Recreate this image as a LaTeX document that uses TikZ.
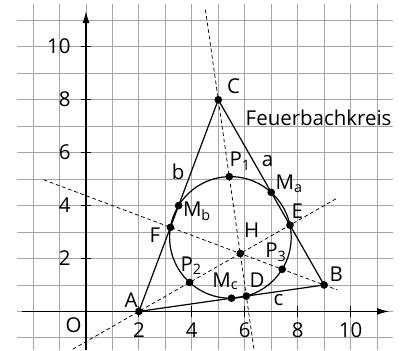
\documentclass[tikz,border=0pt]{standalone}
\usepackage{fontspec}
\setmainfont{Open Sans}
\usetikzlibrary{arrows.meta,positioning}

\begin{document}
\begin{tikzpicture}[>={Latex[length=4.5mm,width=2.6mm]},
 dot/.style={circle,fill,inner sep=0pt,minimum size=2.9mm},
 lbl/.style={font=\fontsize{22}{26}\selectfont,inner sep=0pt},
 side/.style={line width=1.3pt},
 hgt/.style={line width=0.8pt,dash pattern=on 4pt off 3pt}]
\useasboundingbox (-3.25,-1.47) rectangle (12.17,11.77);
\draw[black!35,line width=0.9pt] (-2.6,-1.47) grid (11.6,11.6);
% axes
\draw[->,line width=1.1pt] (-2.4,0) -- (11.45,0);
\draw[->,line width=1.1pt] (0,-1.47) -- (0,11.35);
\foreach \k in {2,4,...,10} {
 \draw[line width=1.1pt] (\k,-0.2) -- (\k,0.2);
 \draw[line width=1.1pt] (-0.2,\k) -- (0.2,\k);
 \node[lbl,anchor=base] (x\k) at (\k,-0.99) {\k};
 \node[lbl,anchor=base east] (y\k) at (-0.58,\k-0.25) {\k};
}
\node[lbl,anchor=base west] (O) at (-0.78,-0.8) {O};
% points
\coordinate (A) at (2,0);
\coordinate (B) at (9,1);
\coordinate (C) at (5,8);
\coordinate (Ma) at (7,4.5);
\coordinate (Mb) at (3.5,4);
\coordinate (Mc) at (5.5,0.5);
\coordinate (D) at (6.06,0.58);
\coordinate (E) at (7.708,3.262);
\coordinate (F) at (3.192,3.178);
\coordinate (H) at (5.830,2.189);
\coordinate (P1) at (5.415,5.094);
\coordinate (P2) at (3.915,1.094);
\coordinate (P3) at (7.415,1.594);
\coordinate (N) at (5.4575,2.7972);
% altitudes
\coordinate (ha1) at (-0.5,-1.429);
\coordinate (ha2) at (9.5,4.286);
\coordinate (hb1) at (-1.6,4.975);
\coordinate (hb2) at (9.5,0.8125);
\coordinate (hc1) at (4.514,11.4);
\coordinate (hc2) at (6.353,-1.47);
\draw[hgt] (ha1) -- (A) -- (H) -- (ha2);
\draw[hgt] (hb1) -- (H) -- (B) -- (hb2);
\draw[hgt] (hc1) -- (C) -- (H) -- (hc2);
% Feuerbach circle and triangle
\draw[side] (N) circle (2.2976);
\draw[side,line join=round] (A) -- (B) -- (C) -- cycle;
\foreach \p in {A,B,C,Ma,Mb,Mc,D,E,F,H,P1,P2,P3}
 \node[dot] (d\p) at (\p) {};
% labels
\node[lbl,anchor=base west] (lA) at (1.45,0.14) {A};
\node[lbl,anchor=base west] (lB) at (9.2,1.15) {B};
\node[lbl,anchor=base west] (lC) at (5.33,8.23) {C};
\node[lbl,anchor=base west] (la) at (6.64,5.48) {a};
\node[lbl,anchor=base west] (lb) at (3.24,4.98) {b};
\node[lbl,anchor=base west] (lc) at (7.08,0.24) {c};
\node[lbl,anchor=base west] (lMa) at (7.16,4.6) {M\textsubscript{a}};
\node[lbl,anchor=base west] (lMb) at (3.66,3.58) {M\textsubscript{b}};
\node[lbl,anchor=base west] (lMc) at (4.77,0.92) {M\textsubscript{c}};
\node[lbl,anchor=base west] (lD) at (6.18,0.92) {D};
\node[lbl,anchor=base west] (lE) at (7.76,3.53) {E};
\node[lbl,anchor=base west] (lF) at (2.4,2.6) {F};
\node[lbl,anchor=base west] (lH) at (5.97,2.78) {H};
\node[lbl,anchor=base west] (lP1) at (5.42,5.46) {P\textsubscript{1}};
\node[lbl,anchor=base west] (lP2) at (3.57,1.52) {P\textsubscript{2}};
\node[lbl,anchor=base west] (lP3) at (6.77,2.02) {P\textsubscript{3}};
\node[lbl,anchor=base west] (feuer) at (6.03,7.02) {Feuerbachkreis};
\end{tikzpicture}
\end{document}
